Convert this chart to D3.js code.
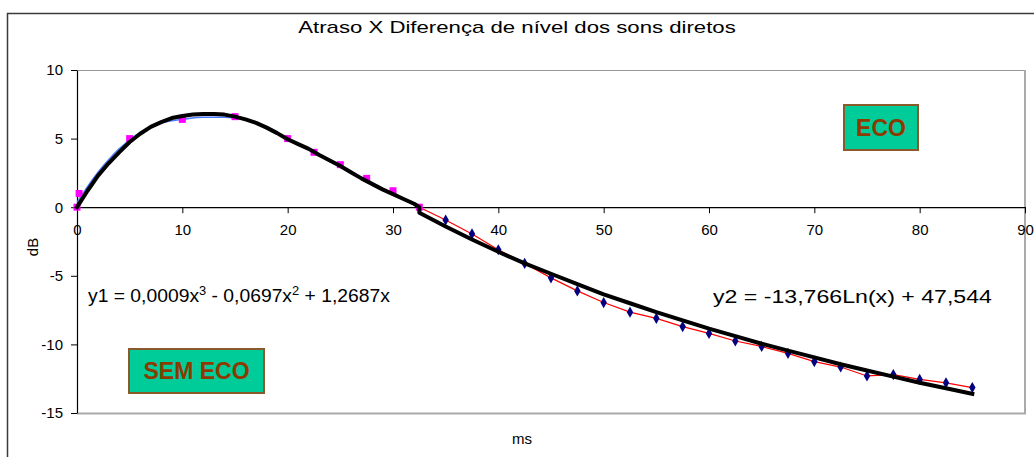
<!DOCTYPE html>
<html>
<head>
<meta charset="utf-8">
<script src="https://cdn.jsdelivr.net/npm/d3@7"></script>
<style>
  html, body { margin: 0; padding: 0; background: #ffffff; }
  svg { display: block; font-family: "Liberation Sans", Arial, sans-serif; }
</style>
</head>
<body>
<svg id="chart" width="1034" height="457"></svg>
<script>
// Axis ticks
const xTicks = [0, 10, 20, 30, 40, 50, 60, 70, 80, 90];
const yTicks = [-15, -10, -5, 0, 5, 10];

// "Sem eco" measurements (magenta squares)
const semEcoX = [0, 0.2, 5, 10, 15, 20, 22.5, 25, 27.5, 30, 32.5];
const semEcoY = [0, 1.0, 5.0, 6.4, 6.6, 5.0, 4.0, 3.1, 2.1, 1.2, 0];

// "Eco" measurements (navy diamonds, joined by the red line)
const ecoX = [32.5, 35, 37.5, 40, 42.5, 45, 47.5, 50, 52.5, 55, 57.5, 60, 62.5, 65, 67.5, 70, 72.5, 75, 77.5, 80, 82.5, 85];
const ecoY = [0, -0.93, -1.95, -3.1, -4.1, -5.15, -6.1, -6.95, -7.65, -8.1, -8.7, -9.2, -9.75, -10.15, -10.65, -11.25, -11.65, -12.3, -12.2, -12.55, -12.8, -13.15];

// Polynomial trend of the "sem eco" series (thin blue line)
const trendX = [0, 1, 2, 3, 4, 5, 6, 7, 8, 9, 10, 12, 14, 16, 18, 20, 22.5, 25, 27.5, 30, 32.5];
const trendY = [0.35, 1.5, 2.55, 3.45, 4.25, 4.9, 5.45, 5.85, 6.15, 6.3, 6.4, 6.55, 6.55, 6.35, 5.85, 5.05, 4.0, 2.95, 1.9, 0.9, 0];

// Combined fitted curve (thick black): y1 up to 32.5 ms, y2 after
const fitX = [0, 1, 2, 3, 4, 5, 6, 7, 8, 9, 10, 11, 12, 13, 14, 15, 16, 17, 18, 19, 20, 21, 22, 23, 24, 25, 26, 27, 28, 29, 30, 31, 32, 32.5,
              32.5, 35, 37.5, 40, 42.5, 45, 47.5, 50, 52.5, 55, 57.5, 60, 62.5, 65, 67.5, 70, 72.5, 75, 77.5, 80, 82.5, 85];
const fitY = [0, 1.2, 2.3, 3.2, 4.0, 4.75, 5.35, 5.85, 6.2, 6.5, 6.65, 6.75, 6.8, 6.8, 6.75, 6.6, 6.4, 6.15, 5.8, 5.4, 4.95, 4.6, 4.25, 3.8, 3.4, 3.0, 2.55, 2.1, 1.7, 1.3, 0.95, 0.6, 0.25, 0,
              -0.4, -1.4, -2.35, -3.25, -4.1, -4.85, -5.6, -6.35, -7.0, -7.65, -8.25, -8.85, -9.4, -9.95, -10.45, -10.95, -11.45, -11.9, -12.35, -12.8, -13.2, -13.6];

const svg = d3.select("#chart");

// Scales (plot area 77..1025 x 70..413)
const x = d3.scaleLinear().domain([0, 90]).range([77, 1025]);
const y = d3.scaleLinear().domain([-15, 10]).range([413, 70]);

// Outer chart frame
svg.append("rect")
  .attr("x", 7.5).attr("y", 13.5)
  .attr("width", 1040).attr("height", 470)
  .attr("fill", "#ffffff")
  .attr("stroke", "#3a3a3a").attr("stroke-width", 1.5);

// Plot area border
svg.append("line").attr("x1", 77).attr("x2", 1025).attr("y1", 70.5).attr("y2", 70.5)
  .attr("stroke", "#999999").attr("stroke-width", 1);
svg.append("line").attr("x1", 1025).attr("x2", 1025).attr("y1", 70).attr("y2", 414)
  .attr("stroke", "#aaaaaa").attr("stroke-width", 2);
svg.append("line").attr("x1", 77).attr("x2", 1026).attr("y1", 413.5).attr("y2", 413.5)
  .attr("stroke", "#aaaaaa").attr("stroke-width", 2);

// Stretch a text element horizontally to a given width
function fitWidth(sel, target) {
  const bb = sel.node().getBBox();
  const anchor = sel.attr("text-anchor") || "start";
  let x0 = bb.x;
  if (anchor === "middle") x0 = bb.x + bb.width / 2;
  if (anchor === "end") x0 = bb.x + bb.width;
  const s = target / bb.width;
  sel.attr("transform", `translate(${x0},0) scale(${s},1) translate(${-x0},0)`);
}

// Title
const title = svg.append("text")
  .attr("x", 517).attr("y", 33)
  .attr("text-anchor", "middle")
  .attr("font-size", 16).attr("fill", "#000")
  .text("Atraso X Diferença de nível dos sons diretos");
fitWidth(title, 438);

// Y axis
const yAxis = svg.append("g")
  .attr("transform", `translate(${x(0)},0)`)
  .call(d3.axisLeft(y).tickValues(yTicks).tickSize(6).tickSizeOuter(0).tickPadding(8)
        .tickFormat(d => d));
yAxis.select(".domain").attr("stroke", "#000").attr("stroke-width", 1.2);
yAxis.selectAll(".tick line").attr("stroke", "#000");
yAxis.selectAll(".tick text").attr("font-size", 15).attr("font-family", "Liberation Sans, Arial, sans-serif").attr("fill", "#000");

// X axis along y = 0
const xAxis = svg.append("g")
  .attr("transform", `translate(0,${y(0)})`)
  .call(d3.axisBottom(x).tickValues(xTicks).tickSize(6).tickSizeOuter(0).tickPadding(11)
        .tickFormat(d => d));
xAxis.select(".domain").attr("stroke", "#000").attr("stroke-width", 1.2);
xAxis.selectAll(".tick line").attr("stroke", "#000");
xAxis.selectAll(".tick text").attr("font-size", 15).attr("font-family", "Liberation Sans, Arial, sans-serif").attr("fill", "#000");

// Axis titles
svg.append("text")
  .attr("transform", "translate(38,247) rotate(-90)")
  .attr("text-anchor", "middle")
  .attr("font-size", 15).attr("fill", "#000")
  .text("dB");
svg.append("text")
  .attr("x", 522).attr("y", 444)
  .attr("text-anchor", "middle")
  .attr("font-size", 15).attr("fill", "#000")
  .text("ms");

const line = d3.line().x(d => x(d[0])).y(d => y(d[1]));

// Red line joining the eco measurements
svg.append("path")
  .datum(ecoX.map((v, i) => [v, ecoY[i]]))
  .attr("d", line)
  .attr("fill", "none").attr("stroke", "#ff0000").attr("stroke-width", 1.2);

// Blue polynomial trend line
svg.append("path")
  .datum(trendX.map((v, i) => [v, trendY[i]]))
  .attr("d", d3.line().x(d => x(d[0])).y(d => y(d[1])).curve(d3.curveMonotoneX))
  .attr("fill", "none").attr("stroke", "#4a7cff").attr("stroke-width", 1.5);

// Magenta squares
svg.append("g").selectAll("rect")
  .data(semEcoX.map((v, i) => [v, semEcoY[i]]))
  .join("rect")
  .attr("x", d => x(d[0]) - 3.5).attr("y", d => y(d[1]) - 3.5)
  .attr("width", 7).attr("height", 7)
  .attr("fill", "#ff00ff");

// Navy diamonds (the first point is shared with the magenta series)
const diamond = d3.symbol().type(d3.symbolDiamond).size(36);
svg.append("g").selectAll("path")
  .data(ecoX.slice(1).map((v, i) => [v, ecoY[i + 1]]))
  .join("path")
  .attr("transform", d => `translate(${x(d[0])},${y(d[1])})`)
  .attr("d", diamond)
  .attr("fill", "#000080");

// Thick black fitted curve
svg.append("path")
  .datum(fitX.map((v, i) => [v, fitY[i]]))
  .attr("d", line)
  .attr("fill", "none").attr("stroke", "#000").attr("stroke-width", 4)
  .attr("stroke-linejoin", "round").attr("stroke-linecap", "square");

// Trend equations
const eq1 = svg.append("text")
  .attr("x", 88).attr("y", 302)
  .attr("font-size", 18).attr("fill", "#000");
eq1.append("tspan").text("y1 = 0,0009x");
eq1.append("tspan").attr("dy", -7).attr("font-size", 12).text("3");
eq1.append("tspan").attr("dy", 7).text(" - 0,0697x");
eq1.append("tspan").attr("dy", -7).attr("font-size", 12).text("2");
eq1.append("tspan").attr("dy", 7).text(" + 1,2687x");
fitWidth(eq1, 302);

const eq2 = svg.append("text")
  .attr("x", 713).attr("y", 303)
  .attr("font-size", 18).attr("fill", "#000")
  .text("y2 = -13,766Ln(x) + 47,544");
fitWidth(eq2, 279);

// Region labels
function tag(cx, cy, w, h, label) {
  const g = svg.append("g");
  g.append("rect")
    .attr("x", cx - w / 2).attr("y", cy - h / 2)
    .attr("width", w).attr("height", h)
    .attr("fill", "#00cc99").attr("stroke", "#8b5a2b").attr("stroke-width", 2);
  g.append("text")
    .attr("x", cx).attr("y", cy + 8)
    .attr("text-anchor", "middle")
    .attr("font-size", 23).attr("font-weight", "bold")
    .attr("fill", "#8b3a00")
    .text(label);
}
tag(881, 127.5, 74, 45, "ECO");
tag(196.5, 371, 135, 44, "SEM ECO");
</script>
</body>
</html>
